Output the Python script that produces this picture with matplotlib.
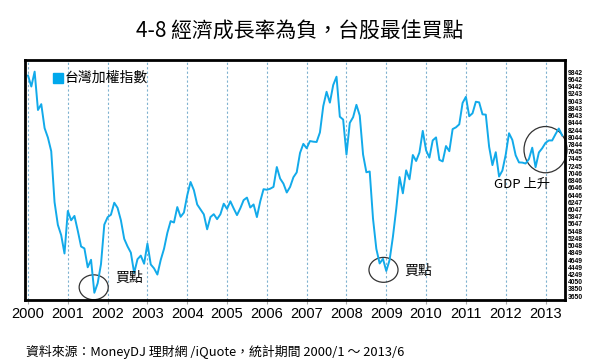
import numpy as np
import matplotlib
matplotlib.use("Agg")
import matplotlib.pyplot as plt
from matplotlib.patches import Ellipse, Rectangle

plt.rcParams['font.family'] = ['Noto Sans CJK TC', 'DejaVu Sans']

# monthly close of TAIEX, 2000/1 - 2013/6
taiex = [
    9744, 9435, 9854, 8775, 8939, 8265, 7999, 7616, 6185, 5544, 5256, 4739,   # 2000
    5936, 5674, 5797, 5381, 4936, 4883, 4352, 4563, 3636, 3903, 4441, 5551,   # 2001
    5760, 5830, 6167, 6022, 5675, 5153, 4940, 4764, 4191, 4579, 4680, 4452,   # 2002
    5020, 4432, 4321, 4148, 4556, 4872, 5318, 5650, 5611, 6045, 5771, 5891,   # 2003
    6375, 6750, 6522, 6118, 5977, 5840, 5420, 5765, 5845, 5706, 5844, 6140,   # 2004
    5994, 6207, 6006, 5819, 6012, 6241, 6312, 6033, 6119, 5764, 6203, 6548,   # 2005
    6532, 6561, 6613, 7171, 6847, 6704, 6455, 6611, 6883, 7021, 7567, 7823,   # 2006
    7699, 7902, 7884, 7875, 8145, 8883, 9287, 8982, 9476, 9711, 8586, 8506,   # 2007
    7521, 8412, 8572, 8920, 8619, 7524, 7024, 7046, 5719, 4870, 4460, 4591,   # 2008
    4248, 4557, 5211, 5993, 6890, 6432, 7078, 6826, 7509, 7340, 7582, 8188,   # 2009
    7640, 7436, 7920, 8004, 7374, 7329, 7761, 7616, 8238, 8287, 8372, 8972,   # 2010
    9145, 8600, 8683, 9007, 8989, 8653, 8644, 7741, 7225, 7588, 6904, 7072,   # 2011
    7517, 8121, 7933, 7501, 7301, 7296, 7270, 7397, 7715, 7166, 7581, 7699,   # 2012
    7850, 7919, 7918, 8093, 8254, 8062,                                       # 2013
]
years = list(range(2000, 2014))
ytick_labels = ['9842', '9642', '9442', '9243', '9043', '8843', '8643', '8444',
                '8244', '8044', '7844', '7645', '7445', '7245', '7046', '6846',
                '6646', '6446', '6247', '6047', '5847', '5647', '5448', '5248',
                '5048', '4849', '4649', '4449', '4249', '4050', '3850', '3650']

months = 2000 + np.arange(len(taiex)) / 12.0

fig = plt.figure(figsize=(6.0, 3.64), dpi=100)
ax = fig.add_axes([0.0417, 0.1758, 0.9, 0.6594])

line_color = '#12aaea'
ax.plot(months, taiex, color=line_color, lw=1.4)

ax.set_xlim(1999.925, 2013.49)
ax.set_ylim(3432, 10181)

# yearly dashed grid
for y in years:
    ax.axvline(y, color='#7fb2d0', lw=0.8, ls=(0, (2, 2)), zorder=0)

for s in ax.spines.values():
    s.set_linewidth(2.0)
    s.set_color('black')

ax.set_xticks(years)
ax.set_xticklabels([str(y) for y in years], fontsize=10.5, family='Liberation Sans')
ax.tick_params(axis='x', length=3, color='#aaaaaa', pad=2)

# right-hand labels are evenly spaced down the frame
ax.set_yticks([])
ax2 = ax.twinx()
ax2.set_ylim(0, 1)
pos = np.linspace(0.949, 0.016, len(ytick_labels))
ax2.set_yticks(pos)
ax2.set_yticklabels(ytick_labels, fontsize=4.9, fontweight='bold', family='Liberation Sans')
ax2.tick_params(axis='y', length=0, pad=2)
for s in ax2.spines.values():
    s.set_visible(False)

# legend box
ax.add_patch(Rectangle((0.052, 0.905), 0.018, 0.042, transform=ax.transAxes,
                       color='#00a8ec', clip_on=False))
ax.text(0.074, 0.926, '台灣加權指數', transform=ax.transAxes, fontsize=10,
        va='center', ha='left')

# annotations
ax.add_patch(Ellipse((2001.65, 3790), 0.73, 700, fill=False, ec='#333333', lw=0.9))
ax.text(2002.2, 4050, '買點', fontsize=10, va='center')
ax.add_patch(Ellipse((2008.93, 4280), 0.73, 700, fill=False, ec='#333333', lw=0.9))
ax.text(2009.45, 4250, '買點', fontsize=10, va='center')
ax.add_patch(Ellipse((2013.0, 7660), 1.08, 1300, fill=False, ec='#333333', lw=0.9,
                     clip_on=False))
ax.text(2011.7, 6680, 'GDP 上升', fontsize=9.5, va='center')

fig.text(0.5, 0.917, '4-8 經濟成長率為負，台股最佳買點', ha='center', va='center',
         fontsize=15)
fig.text(0.043, 0.033, '資料來源：MoneyDJ 理財網 /iQuote，統計期間 2000/1 ～ 2013/6',
         ha='left', va='center', fontsize=9.3)

fig.savefig('out.png', dpi=100)
